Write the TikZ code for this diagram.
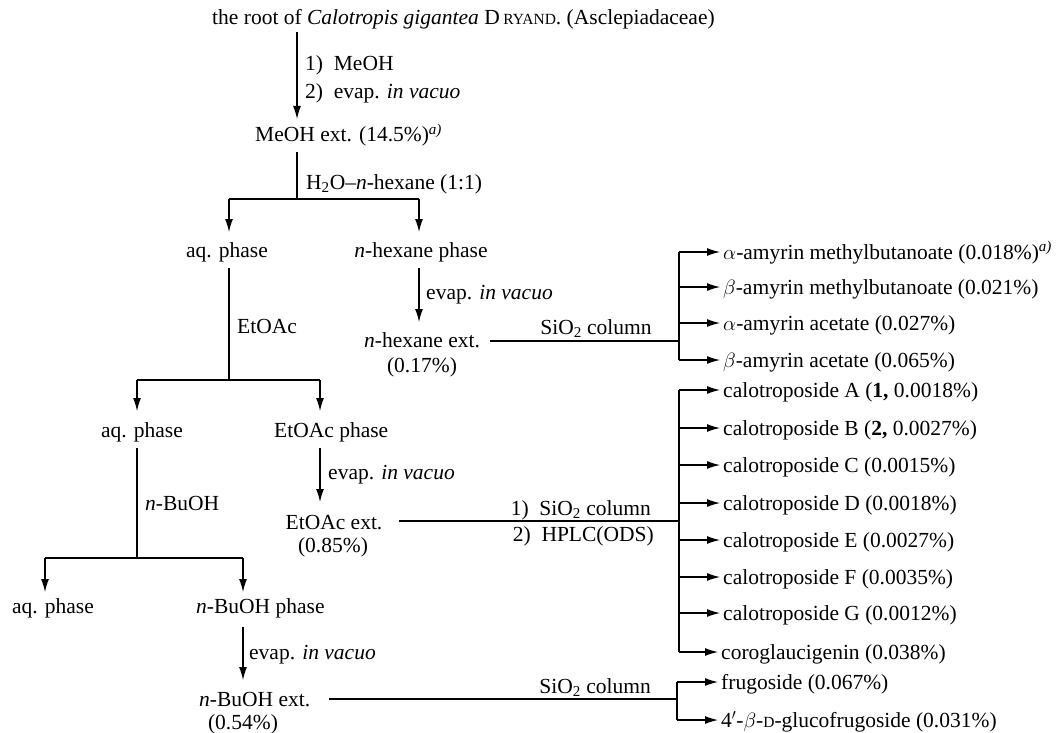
\documentclass[tikz,border=0pt]{standalone}
\usepackage{fontspec}
\setmainfont{Liberation Serif}
\usetikzlibrary{arrows.meta}
\newcommand{\smcp}[1]{{\fontsize{15.5}{15.5}\selectfont #1}}
\begin{document}
\begin{tikzpicture}[x=1pt,y=-1pt,
  every node/.style={inner sep=0pt},
  tx/.style={anchor=base west},
  txc/.style={anchor=base},
  txe/.style={anchor=base east},
  ln/.style={line width=1.2pt},
  arr/.style={ln,-{Latex[length=13pt,width=8pt]}},
  font=\fontsize{21.5}{25}\selectfont]
\useasboundingbox (0,0) rectangle (1057,733);
\fill[white] (0,0) rectangle (1057,733);

% ---- top
\node[tx] (root) at (212,25) {the root of \textit{Calotropis gigantea} D\,\smcp{RYAND}. (Asclepiadaceae)};
\node[tx] (meoh) at (255,142) {MeOH ext. (14.5\%)\textsuperscript{\itshape a)}};
\coordinate (r0) at (297,32);
\coordinate (m0) at (297,119);
\draw[arr] (r0) -- (m0);
\node[tx] (s1a) at (305,71) {1)\enspace MeOH};
\node[tx] (s1b) at (305,99) {2)\enspace evap. \textit{in vacuo}};

% ---- split 1
\coordinate (m1) at (297,152);
\coordinate (b1) at (297,199);
\draw[ln] (m1) -- (b1);
\node[tx] (s2) at (306,189) {H\textsubscript{2}O–\textit{n}-hexane (1:1)};
\coordinate (b1l) at (229,199);
\coordinate (b1r) at (419,199);
\node[txc] (aq1) at (227,257) {aq. phase};
\node[txc] (hx) at (421,257) {\textit{n}-hexane phase};
\draw[ln] (b1l) -- (b1r);
\draw[arr] (b1l) -- (b1l |- 0,232);
\draw[arr] (b1r) -- (b1r |- 0,232);

% ---- n-hexane branch
\coordinate (hx0) at (419,268);
\coordinate (hx1) at (419,322);
\draw[arr] (hx0) -- (hx1);
\node[tx] (s3) at (426,299) {evap. \textit{in vacuo}};
\node[txc] (hxe) at (422,347) {\textit{n}-hexane ext.};
\node[txc] (hxp) at (422,372) {(0.17\%)};
\coordinate (hxl) at (490,341);
\coordinate (k1) at (679,341);
\draw[ln] (hxl) -- (k1);
\node[txc] (s4) at (596,334) {SiO\textsubscript{2} column};
\coordinate (k1t) at (679,252);
\coordinate (k1b) at (679,360);
\draw[ln] (k1t) -- (k1b);
\node[tx] (p1) at (723,259) {$\alpha$-amyrin methylbutanoate (0.018\%)\textsuperscript{\itshape a)}};
\node[tx] (p2) at (723,294) {$\beta$-amyrin methylbutanoate (0.021\%)};
\node[tx] (p3) at (723,330) {$\alpha$-amyrin acetate (0.027\%)};
\node[tx] (p4) at (723,367) {$\beta$-amyrin acetate (0.065\%)};
\foreach \p/\yy in {p1/252,p2/287,p3/323,p4/360}
  \draw[arr] (679,\yy) -- ([xshift=-3pt]\p.west |- 0,\yy);

% ---- aq branch 1
\coordinate (aq10) at (229,268);
\coordinate (b2) at (229,380);
\draw[ln] (aq10) -- (b2);
\node[tx] (s5) at (237,333) {EtOAc};
\coordinate (b2l) at (137,380);
\coordinate (b2r) at (320,380);
\draw[ln] (b2l) -- (b2r);
\draw[arr] (b2l) -- (b2l |- 0,411);
\draw[arr] (b2r) -- (b2r |- 0,411);
\node[txc] (aq2) at (142,437) {aq. phase};
\node[tx] (et) at (274,437) {EtOAc phase};

% ---- EtOAc branch
\coordinate (et0) at (320,448);
\coordinate (et1) at (320,502);
\draw[arr] (et0) -- (et1);
\node[tx] (s6) at (328,479) {evap. \textit{in vacuo}};
\node[txc] (ete) at (334,529) {EtOAc ext.};
\node[txc] (etp) at (333,552) {(0.85\%)};
\coordinate (etl) at (399,521);
\coordinate (k2) at (679,521);
\draw[ln] (etl) -- (k2);
\node[txe] (s7) at (651,515) {1)\enspace SiO\textsubscript{2} column};
\node[txe] (s8) at (654,541) {2)\enspace HPLC(ODS)};
\coordinate (k2t) at (679,390);
\coordinate (k2b) at (679,652);
\draw[ln] (k2t) -- (k2b);
\node[tx] (q1) at (723,397) {calotroposide A (\textbf{1,} 0.0018\%)};
\node[tx] (q2) at (723,435) {calotroposide B (\textbf{2,} 0.0027\%)};
\node[tx] (q3) at (723,472) {calotroposide C (0.0015\%)};
\node[tx] (q4) at (723,510) {calotroposide D (0.0018\%)};
\node[tx] (q5) at (723,547) {calotroposide E (0.0027\%)};
\node[tx] (q6) at (723,584) {calotroposide F (0.0035\%)};
\node[tx] (q7) at (723,620) {calotroposide G (0.0012\%)};
\node[tx] (q8) at (721,659) {coroglaucigenin (0.038\%)};
\foreach \p/\yy in {q1/390,q2/428,q3/465,q4/503,q5/540,q6/577,q7/613,q8/652}
  \draw[arr] (679,\yy) -- ([xshift=-3pt]\p.west |- 0,\yy);

% ---- aq branch 2
\coordinate (aq20) at (137,448);
\coordinate (b3) at (137,558);
\draw[ln] (aq20) -- (b3);
\node[tx] (s9) at (145,510) {\textit{n}-BuOH};
\coordinate (b3l) at (45,558);
\coordinate (b3r) at (243,558);
\draw[ln] (b3l) -- (b3r);
\draw[arr] (b3l) -- (b3l |- 0,592);
\draw[arr] (b3r) -- (b3r |- 0,592);
\node[txc] (aq3) at (53,613) {aq. phase};
\node[tx] (bu) at (196,613) {\textit{n}-BuOH phase};

% ---- BuOH branch
\coordinate (bu0) at (243,627);
\coordinate (bu1) at (243,680);
\draw[arr] (bu0) -- (bu1);
\node[tx] (s10) at (249,659) {evap. \textit{in vacuo}};
\node[tx] (bue) at (199,706) {\textit{n}-BuOH ext.};
\node[txc] (bup) at (243,729) {(0.54\%)};
\coordinate (bul) at (329,699);
\coordinate (k3) at (677,699);
\draw[ln] (bul) -- (k3);
\node[txe] (s11) at (651,693) {SiO\textsubscript{2} column};
\coordinate (k3t) at (677,682);
\coordinate (k3b) at (677,720);
\draw[ln] (k3t) -- (k3b);
\node[tx] (f1) at (721,689) {frugoside (0.067\%)};
\node[tx] (f2) at (721,727) {4$'$-$\beta$-\smcp{D}-glucofrugoside (0.031\%)};
\foreach \p/\yy in {f1/682,f2/720}
  \draw[arr] (677,\yy) -- ([xshift=-3pt]\p.west |- 0,\yy);
\end{tikzpicture}
\end{document}
